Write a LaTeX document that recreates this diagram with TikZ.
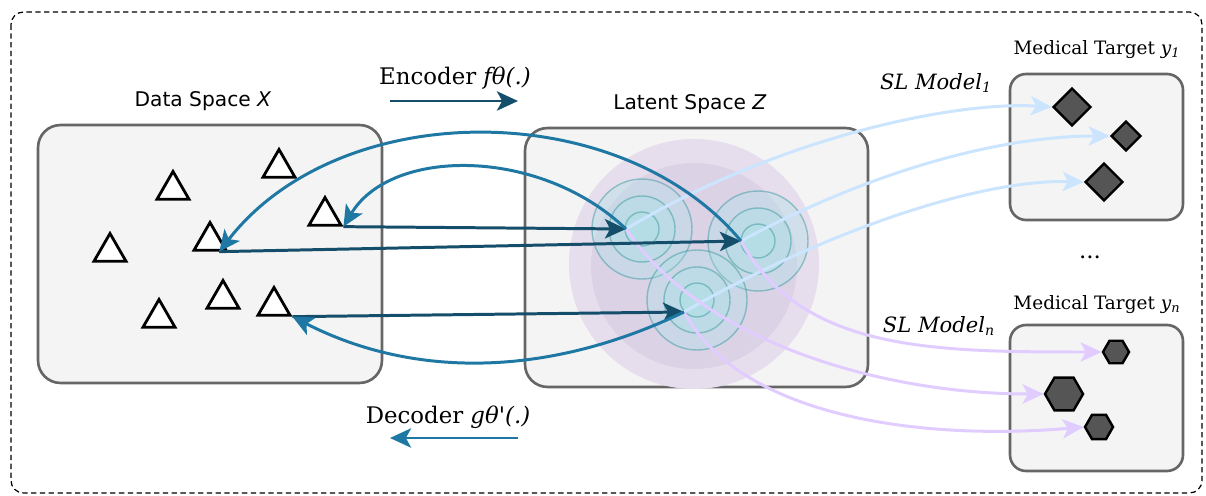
\documentclass[tikz,border=0pt]{standalone}
\usepackage{fontspec}
\setmainfont{DejaVu Serif}
\setsansfont{DejaVu Sans}
\usepackage{tikz}
\usetikzlibrary{arrows.meta, positioning, shapes.geometric, calc}

\definecolor{encblue}{RGB}{20,78,107}
\definecolor{decblue}{RGB}{31,120,164}
\definecolor{slone}{RGB}{204,229,255}
\definecolor{sln}{RGB}{224,204,255}
\definecolor{boxfill}{RGB}{244,244,244}
\definecolor{boxline}{RGB}{102,102,102}
\definecolor{blobout}{RGB}{231,222,237}
\definecolor{blobin}{RGB}{219,210,230}
\definecolor{ringfill}{RGB}{165,228,230}
\definecolor{ringline}{RGB}{60,155,160}
\definecolor{markfill}{RGB}{85,85,85}

\tikzset{
  spacebox/.style={draw=boxline, fill=boxfill, line width=1.5pt, rounded corners=0.45cm, inner sep=0pt},
  sampletri/.style={regular polygon, regular polygon sides=3, draw=black, fill=white,
    line width=1.6pt, minimum size=0.74cm, inner sep=0pt},
  targetdia/.style={diamond, aspect=1, draw=black, fill=markfill, line width=1.4pt, inner sep=0pt},
  targethex/.style={regular polygon, regular polygon sides=6, draw=black, fill=markfill,
    line width=1.4pt, inner sep=0pt},
  ringcirc/.style={draw=ringline, draw opacity=0.5, fill=ringfill, fill opacity=0.32, line width=0.8pt},
  headtip/.style={-{Stealth[length=12pt, width=11pt, inset=3pt]}},
  encarrow/.style={encblue, line width=1.7pt, headtip},
  decarrow/.style={decblue, line width=1.7pt, headtip},
  slonearrow/.style={slone, line width=1.7pt, headtip},
  slnarrow/.style={sln, line width=1.7pt, headtip},
  sanslbl/.style={font=\sffamily\fontsize{11.5}{13}\selectfont},
  seriflbl/.style={font=\rmfamily\fontsize{10.5}{12}\selectfont},
  modellbl/.style={font=\rmfamily\itshape\fontsize{12}{14}\selectfont},
  codelbl/.style={font=\rmfamily\fontsize{13}{15}\selectfont},
}

\begin{document}
\begin{tikzpicture}[x=0.02cm, y=-0.02cm]
  \useasboundingbox (0,0) rectangle (1206,496);

  % frame round everything
  \draw[line width=0.7pt, dash pattern=on 3pt off 2pt, rounded corners=0.25cm]
    (11,12) rectangle (1202,493);

  % spaces and target boxes
  \node[spacebox, minimum width=6.88cm, minimum height=5.16cm] (data) at (210,254) {};
  \node[spacebox, minimum width=6.86cm, minimum height=5.18cm] (latent) at (696.5,257.5) {};
  \node[spacebox, rounded corners=0.32cm, minimum width=3.46cm, minimum height=2.92cm]
    (tgtone) at (1096.5,147) {};
  \node[spacebox, rounded corners=0.32cm, minimum width=3.46cm, minimum height=2.92cm]
    (tgtn) at (1096.5,398) {};

  \node[sanslbl] (datalbl) at (203,101) {Data Space \textit{X}};
  \node[sanslbl] (latentlbl) at (690,104) {Latent Space \textit{Z}};
  \node[seriflbl] (tgtonelbl) at (1097,50) {Medical Target \textit{y}\textsubscript{\textit{1}}};
  \node[seriflbl] (tgtnlbl) at (1097,305) {Medical Target \textit{y}\textsubscript{\textit{n}}};
  \node[codelbl] (dots) at (1090,257) {...};

  % latent clusters
  \fill[blobout] (694,264) circle[radius=125];
  \fill[blobin] (694,266) circle[radius=103];
  \foreach \cx/\cy in {642/229, 758/241, 697/300}
    \foreach \r in {50,33,17}
      \draw[ringcirc] (\cx,\cy) circle[radius=\r];

  \coordinate (z1) at (626,229);
  \coordinate (z2) at (741,241);
  \coordinate (z3) at (684,312);

  % samples
  \foreach \n/\x/\y in {1/173/190, 2/279/168, 3/325/216, 4/110/252,
                        5/210/241, 6/223/299, 7/159/318, 8/274/306}
    \node[sampletri] (t\n) at (\x,\y) {};
  \coordinate (t5b) at ($(t5.corner 2)!0.75!(t5.corner 3)$);

  % targets
  \node[targetdia, minimum size=0.76cm] (d1) at (1072,107) {};
  \node[targetdia, minimum size=0.60cm] (d2) at (1126,136) {};
  \node[targetdia, minimum size=0.76cm] (d3) at (1104,182) {};
  \node[targethex, minimum size=0.52cm] (h1) at (1116,352) {};
  \node[targethex, minimum size=0.76cm] (h2) at (1064,394) {};
  \node[targethex, minimum size=0.56cm] (h3) at (1099,427) {};

  % supervised models
  \draw[slonearrow] (z1) .. controls +(150,-90) and +(-100,-6) .. (d1.west);
  \draw[slonearrow] (z2) .. controls +(130,-70) and +(-110,0) .. (d2.west);
  \draw[slonearrow] (z3) .. controls +(130,-75) and +(-110,-3) .. (d3.west);
  \draw[slnarrow] (z2) .. controls +(60,110) and +(-170,0) .. (h1.west);
  \draw[slnarrow] (z1) .. controls +(74,111) and +(-165,0) .. (h2.west);
  \draw[slnarrow] (z3) .. controls +(60,110) and +(-150,13) .. (h3.west);
  \node[modellbl] (slone) at (936,83) {SL Model\textsubscript{1}};
  \node[modellbl] (sln) at (939,326) {SL Model\textsubscript{n}};

  % encoder
  \draw[encarrow] (t3.corner 3) -- (z1);
  \draw[encarrow] (t5b) -- (z2);
  \draw[encarrow] (t8.corner 3) -- (z3);

  % decoder
  \draw[decarrow] (z1) .. controls (540,147) and (391,147) .. (t3.corner 3);
  \draw[decarrow] (z2) .. controls (620,96) and (340,96) .. (t5b);
  \draw[decarrow] (z3) .. controls (551,376) and (416,380) .. (t8.corner 3);

  % legend arrows
  \coordinate (enca) at (390,101);
  \coordinate (encb) at (518,101);
  \draw[encarrow] (enca) -- (encb);
  \node[codelbl] (enclbl) at (455,78) {Encoder \textit{fθ(.)}};
  \coordinate (deca) at (518,438);
  \coordinate (decb) at (390,438);
  \draw[decarrow] (deca) -- (decb);
  \node[codelbl] (declbl) at (448,417) {Decoder \textit{gθ\textquotesingle(.)}};
\end{tikzpicture}
\end{document}
